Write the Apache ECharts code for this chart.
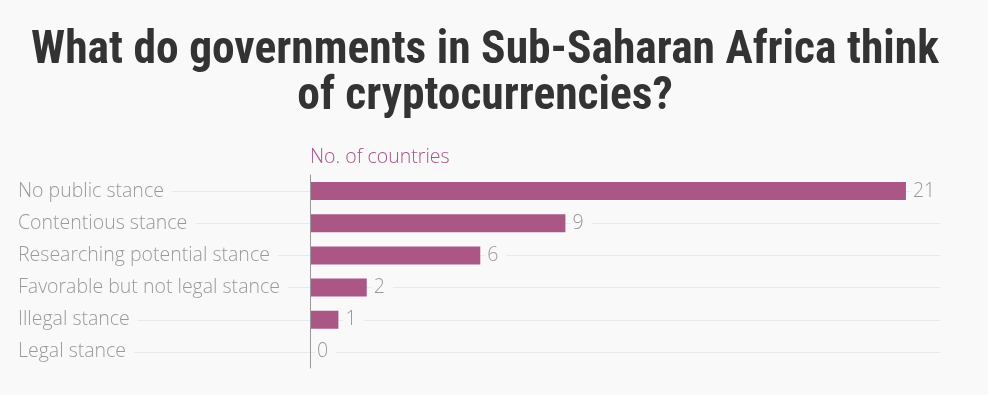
<!DOCTYPE html>
<html><head><meta charset="utf-8">
<script src="https://cdn.jsdelivr.net/npm/echarts@6/dist/echarts.min.js"></script>
<style>html,body{margin:0;padding:0;background:#f9f9f9;}#c{width:988px;height:395px;}</style>
</head><body><div id="c"></div>
<script>
const categories = ["No public stance","Contentious stance","Researching potential stance","Favorable but not legal stance","Illegal stance","Legal stance"];
const values = [21, 9, 6, 2, 1, 0];
const axisName = "No. of countries";
const titleText = "What do governments in Sub-Saharan Africa think\nof cryptocurrencies?";

const labelFont = '"Open Sans", sans-serif';
const chart = echarts.init(document.getElementById('c'));
chart.setOption({
  backgroundColor: '#f9f9f9',
  animation: false,
  title: {
    text: titleText, left: 480, top: 24, textAlign: 'center',
    textStyle: { fontFamily: '"Roboto Condensed", sans-serif', fontWeight: 'bold', fontSize: 45.5, lineHeight: 46, color: '#333' }
  },
  grid: { left: 18, right: 48, top: 175, bottom: 27, outerBoundsMode: 'none', containLabel: false },
  xAxis: {
    type: 'value', min: -10.29, max: 22.2,
    axisLine: { show: false }, axisTick: { show: false }, axisLabel: { show: false }, splitLine: { show: false }
  },
  yAxis: [{
    type: 'category', data: categories, inverse: true, z: 3,
    name: axisName, nameLocation: 'start', nameGap: 8,
    nameTextStyle: { color: '#a8558a', fontSize: 19.5, fontWeight: 300, fontFamily: labelFont, align: 'left', padding: [0,0,0,0] },
    axisLine: { show: true, onZero: true, lineStyle: { color: '#999', width: 1 } },
    axisTick: { show: false },
    axisLabel: { show: false },
    splitLine: { show: false }
  }, {
    type: 'category', data: categories, inverse: true, z: 3, position: 'left', offset: 0,
    axisLine: { show: false, onZero: false },
    axisTick: { show: false },
    axisLabel: { inside: true, margin: 0, color: '#9a9a9a', fontSize: 19.5, fontWeight: 300, fontFamily: labelFont, backgroundColor: '#f9f9f9', padding: [2,8,2,0] },
    splitLine: { show: false }
  }],
  series: [{
    type: 'bar', data: values, barWidth: 18, z: 2, yAxisIndex: 0,
    itemStyle: { color: '#ab5785' },
    label: { show: true, position: 'right', distance: 5, color: '#9a9a9a', fontSize: 19.5, fontWeight: 300, fontFamily: labelFont, backgroundColor: '#f9f9f9', padding: [2,8,2,2] },
    markLine: {
      z: 1, silent: true, symbol: 'none',
      label: { show: false },
      lineStyle: { color: '#e9e9e9', width: 1, type: 'solid' },
      data: categories.map(c => ({ yAxis: c }))
    }
  }]
});
</script></body></html>
